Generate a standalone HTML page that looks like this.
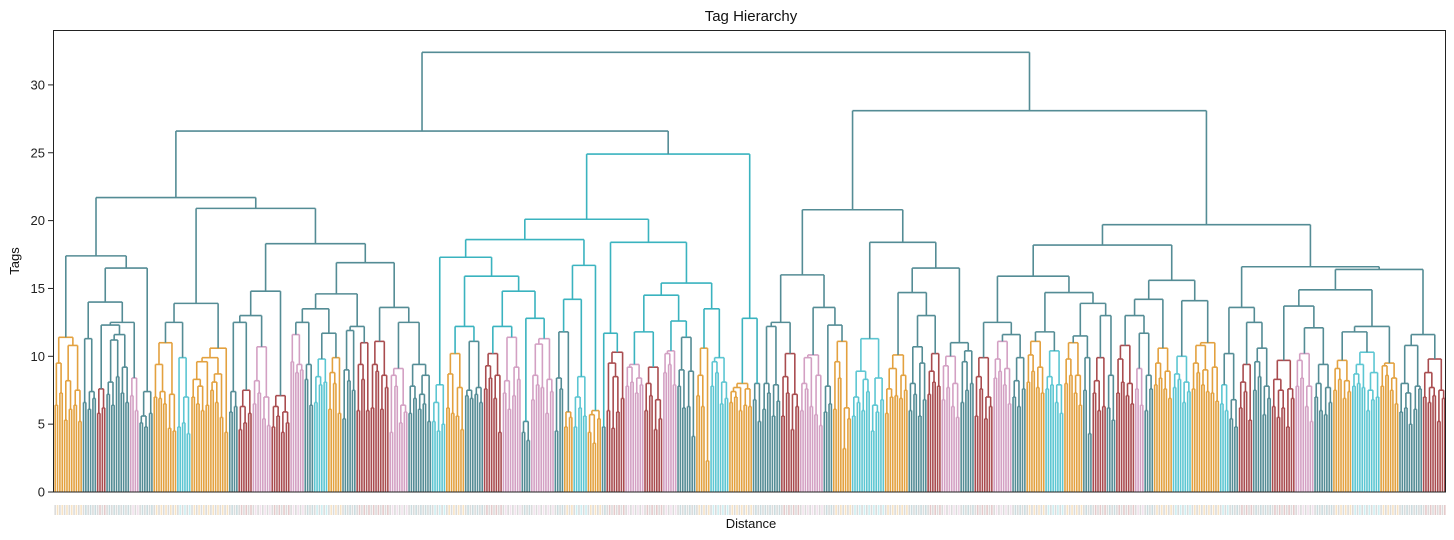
<!DOCTYPE html>
<html><head><meta charset="utf-8"><style>
body{margin:0;background:#fff;}
svg{display:block;font-family:"Liberation Sans",sans-serif;}
</style></head><body>
<svg id="chart" width="1454" height="540" viewBox="0 0 1454 540" xmlns="http://www.w3.org/2000/svg">
<text x="751" y="21" font-size="15" text-anchor="middle" fill="#111">Tag Hierarchy</text>
<text x="751" y="528" font-size="13" text-anchor="middle" fill="#111">Distance</text>
<text x="0" y="0" font-size="13" text-anchor="middle" fill="#111" transform="translate(19,261) rotate(-90)">Tags</text>
<g id="ticks"></g>
<g id="leaflabels"></g>
<g id="links"></g>
<rect x="53.5" y="30.5" width="1392" height="461.5" fill="none" stroke="#222" stroke-width="1"/>
</svg>
<script>
const yTicks = [0, 5, 10, 15, 20, 25, 30];
const A1 = ['O',[11.4,[9.5,6.4,7.3],[10.8,[8.2,5.3,6.1],[7.5,6.4,5.2]]]];
const A2 = [16.5,[14.0,['T',[11.3,6.6,[7.4,6.1,6.9]]],[12.5,[12.3,['R',[7.6,5.8,6.2]],['T',[11.6,[11.2,[8.1,7.2,6.4],8.5],[9.2,7.3,6.6]]]],['P',[8.4,7.1,6.0]]]],['T',[7.4,[5.6,5.1,4.8],5.8]]];
const B1 = [13.9,[12.5,['O',[11.0,[9.4,7.0,[7.4,6.9,6.5]],[7.2,4.7,4.5]]],['C',[9.9,4.8,[7.0,5.1,4.3]]]],['O',[10.6,[9.9,[9.6,[8.3,7.0,[7.8,6.5,6.0]],6.4],[8.7,[8.1,7.5,6.6],5.5]],4.4]]];
const B2a = [14.8,[13.0,[12.5,['T',[7.4,5.9,6.3]],['R',[7.5,[6.3,4.6,5.1],5.8]]],['P',[10.7,[8.2,6.5,7.3],[7.0,5.4,4.9]]]],['R',[7.1,[6.3,4.8,5.6],[5.9,4.4,5.1]]]];
const B2b1 = [14.6,[13.5,[12.5,['P',[11.6,9.6,[9.4,8.8,9.0]]],['T',[9.4,8.3,6.4]]],[11.7,['C',[9.8,[8.5,6.6,7.9],8.1]],['O',[9.9,[8.8,6.1,8.0],5.8]]]],[12.2,['T',[11.9,[9.0,5.4,8.2],7.5]],['R',[11.0,[9.4,6.0,8.3],6.0]]]];
const B2b2 = [13.6,['R',[11.1,[9.4,6.2,8.9],[8.6,6.1,7.7]]],[12.5,['P',[9.1,[8.6,4.4,7.8],[6.4,5.1,5.9]]],['T',[9.4,[7.8,5.8,6.9],[8.6,[7.2,6.1,6.5],5.2]]]]];
const M1a1 = [17.3,['C',[7.9,[6.6,5.2,4.5],5.0]],[15.9,[12.2,['O',[10.2,[8.7,6.2,5.8],[7.7,5.6,4.6]]],['T',[11.1,[7.5,7.1,6.9],[7.7,7.2,6.6]]]],[14.8,[12.2,['R',[10.2,[9.3,7.6,8.4],[8.6,6.9,4.4]]],['P',[11.4,[8.2,7.3,6.1],[9.2,7.1,8.3]]]],[12.8,['T',[5.2,4.4,3.8]],['P',[11.3,[10.9,[8.6,6.8,7.9],7.7],[8.3,5.8,7.4]]]]]]];
const M1a2 = [16.7,[14.2,['T',[11.8,[8.4,4.5,7.6],['O',[5.9,4.8,5.5]]]],['C',[8.5,[7.0,4.8,6.2],5.6]]],['O',[6.0,[5.7,4.4,3.6],5.4]]];
const M1b = [18.4,[11.7,['T',4.8],['R',[10.3,[9.5,6.0,[8.5,4.7,5.9]],6.9]]],[15.4,[14.5,[11.8,['P',[9.4,[9.2,7.8,8.1],[8.4,7.3,7.9]]],['R',[9.2,[8.0,6.0,7.1],[6.8,4.6,5.4]]]],[12.6,['P',[10.4,[10.2,8.8,9.4],7.9]],['T',[11.4,[9.0,7.8,6.2],[8.9,6.3,4.1]]]]],[13.5,['O',[10.6,[8.6,7.1,6.3],2.3]],['C',[9.9,[9.6,7.8,8.8],[8.1,6.5,6.9]]]]]];
const M2 = [12.8,['O',[8.0,[7.7,[7.4,6.6,7.0],6.0],[7.6,6.4,6.3]]],['T',[8.0,6.8,5.2]]];
const R1a = [16.0,[12.5,['T',[12.2,[8.0,6.1,7.3],[7.9,5.6,6.7]]],['R',[10.2,[8.5,5.6,7.3],[7.2,4.6,6.3]]]],[13.6,['P',[10.1,[9.9,[8.0,6.0,7.6],6.3],[8.6,5.7,4.9]]],['T',[12.3,[7.8,5.9,6.5],['O',[11.1,[9.6,6.1,8.4],[6.2,3.2,5.4]]]]]]];
const R1b = [18.4,['C',[11.3,[8.9,[7.0,5.6,6.6],[8.3,6.0,7.4]],[8.4,[6.4,4.5,5.9],6.8]]],[16.5,[14.7,['O',[10.1,[9.1,[7.6,5.8,7.0],7.1],[8.6,6.9,7.5]]],[13.0,['T',[10.7,[8.0,6.0,7.2],[9.5,5.6,6.8]]],['R',[10.2,[8.9,7.2,8.1],7.8]]]],[11.0,['P',[10.0,[9.3,6.8,7.7],[8.0,6.3,5.5]]],['T',[10.4,[9.6,6.6,7.5],8.0]]]]];
const R2a1 = [15.9,[12.5,['R',[9.9,[8.5,5.6,7.6],[7.0,5.4,6.3]]],[11.6,['P',[11.1,[9.8,8.4,8.9],[9.1,7.9,6.5]]],['T',[9.9,[8.2,7.0,6.3],7.6]]]],[14.7,[11.8,['O',[11.1,[10.1,8.1,8.9],[9.2,7.7,7.3]]],['C',[10.4,[8.5,7.6,7.9],[7.9,6.6,5.8]]]],[13.9,[11.5,['O',[11.0,[9.8,8.0,8.6],[8.6,7.3,6.4]]],['T',[9.9,7.5,4.3]]],['T',[13.0,['R',[9.9,[8.2,7.3,6.0],6.3]],[8.6,6.2,5.3]]]]]];
const R2a2 = [15.6,[14.2,[13.0,['R',[10.8,[9.8,7.3,8.1],[8.0,7.1,6.5]]],['T',[11.7,['P',[9.1,7.6,6.4]],[8.6,6.0,7.6]]]],['O',[10.6,[9.5,7.9,8.4],[8.9,7.6,6.9]]]],[14.1,['C',[10.0,[8.7,7.7,8.3],[8.1,6.6,7.4]]],['O',[11.0,[10.8,[9.5,7.6,8.8],[9.0,7.9,7.4]],[9.2,7.3,6.7]]]]];
const R2b1 = [13.6,['T',[10.2,['C',[7.9,6.5,6.0]],[6.8,5.4,4.8]]],[12.5,['R',[9.4,[8.1,6.2,7.4],5.3]],['T',[10.6,[9.6,7.5,8.5],[7.8,5.7,6.9]]]]];
const R2b2 = [16.4,[14.9,[13.7,['R',[9.7,[8.3,6.3,[7.5,5.5,6.2]],[7.6,4.8,6.9]]],[12.1,['P',[10.2,[9.7,7.8,8.4],[7.8,6.3,5.2]]],['T',[9.4,[8.0,7.0,6.0],[7.7,5.7,6.6]]]]],[12.2,[11.8,['O',[9.7,[9.1,7.5,8.3],[8.2,6.9,7.4]]],['C',[10.3,[9.4,[8.7,7.8,8.0],7.7],[8.8,[7.5,6.0,6.8],7.0]]]],['O',[9.5,[9.3,7.8,8.6],[8.4,7.5,6.5]]]]],[11.6,['T',[10.8,[8.0,5.9,[7.3,6.2,5.0]],[7.8,6.1,7.6]]],['R',[9.8,[8.8,7.0,[7.7,6.6,7.1]],[7.5,5.2,6.9]]]]];
const upperHeights = [32.4, 26.6, 21.7, 17.4, 20.9, 18.3, 16.9, 24.9, 20.1, 18.6, 28.1, 20.8, 19.7, 18.2, 16.6];
const tree = [upperHeights[0],
  [upperHeights[1],
    [upperHeights[2], [upperHeights[3], A1, A2], [upperHeights[4], B1, [upperHeights[5], B2a, [upperHeights[6], B2b1, B2b2]]]],
    ['K', [upperHeights[7], [upperHeights[8], [upperHeights[9], M1a1, M1a2], M1b], M2]]],
  [upperHeights[10],
    [upperHeights[11], R1a, R1b],
    [upperHeights[12], [upperHeights[13], R2a1, R2a2], [upperHeights[14], R2b1, R2b2]]]];

const COL = {O:'#e3a13f', T:'#548c95', C:'#5cc6d2', P:'#d3a0c3', R:'#a94c4f', K:'#3ab3bf'};
const NS = 'http://www.w3.org/2000/svg';
const X0 = 54, X1 = 1446, Y0 = 492, PXU = 13.57;
const yScale = v => Y0 - v * PXU;
function countLeaves(n){ if(typeof n==='number') return 2; if(typeof n[0]==='string') return countLeaves(n[1]); return countLeaves(n[1])+countLeaves(n[2]); }
const nLeaves = countLeaves(tree);
const step = (X1 - X0) / nLeaves;
const xScale = i => X0 + step * (i + 0.5);
const links = document.getElementById('links');
const labels = document.getElementById('leaflabels');
let leafIdx = 0;
function line(x1,y1,x2,y2,c,name){
  const l = document.createElementNS(NS,'line');
  l.setAttribute('x1',x1); l.setAttribute('y1',y1); l.setAttribute('x2',x2); l.setAttribute('y2',y2);
  l.setAttribute('stroke',c); l.setAttribute('stroke-width','1.6');
  
  
  links.appendChild(l);
}
function leafLabel(x,c){
  const r = document.createElementNS(NS,'rect');
  r.setAttribute('x', x-0.8); r.setAttribute('y', 505); r.setAttribute('width', 1.6); r.setAttribute('height', 10);
  r.setAttribute('fill', c); r.setAttribute('opacity', '0.3');
  
  
  labels.appendChild(r);
}
function draw(n, c){
  if(typeof n === 'number'){
    const xa = xScale(leafIdx++), xb = xScale(leafIdx++);
    const yh = yScale(n);
    line(xa,Y0,xa,yh,c,'leaf-branch'); line(xb,Y0,xb,yh,c,'leaf-branch'); line(xa,yh,xb,yh,c,'merge-link');
    leafLabel(xa,'#888'); leafLabel(xb,c);
    return {x:(xa+xb)/2, h:n};
  }
  if(typeof n[0] === 'string') return draw(n[1], COL[n[0]]);
  const a = draw(n[1], c), b = draw(n[2], c);
  const yh = yScale(n[0]);
  line(a.x,yScale(a.h),a.x,yh,c,'branch'); line(b.x,yScale(b.h),b.x,yh,c,'branch'); line(a.x,yh,b.x,yh,c,'merge-link');
  return {x:(a.x+b.x)/2, h:n[0]};
}
draw(tree, COL.T);
const ticks = document.getElementById('ticks');
yTicks.forEach(v => {
  const y = yScale(v);
  const t = document.createElementNS(NS,'line');
  t.setAttribute('x1',48); t.setAttribute('x2',53.5); t.setAttribute('y1',y); t.setAttribute('y2',y); t.setAttribute('stroke','#222');
  
  
  ticks.appendChild(t);
  const tx = document.createElementNS(NS,'text');
  tx.setAttribute('x',45); tx.setAttribute('y',y+4.5); tx.setAttribute('text-anchor','end'); tx.setAttribute('font-size','13'); tx.setAttribute('fill','#222');
  tx.textContent = v;
  
  
  ticks.appendChild(tx);
});
</script>
</body></html>
